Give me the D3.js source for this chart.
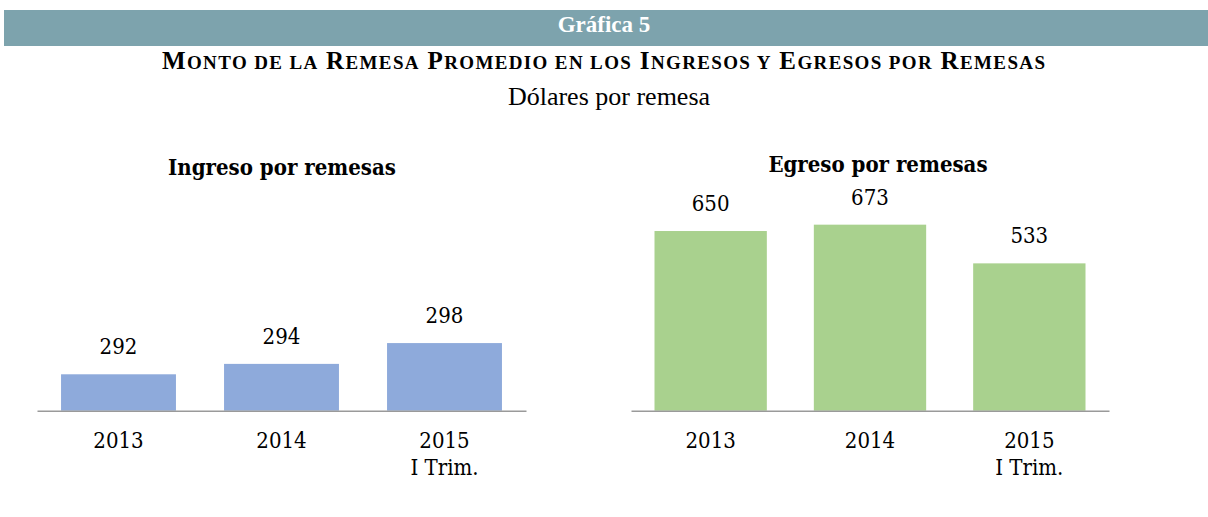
<!DOCTYPE html>
<html>
<head>
<meta charset="utf-8">
<script src="https://cdn.jsdelivr.net/npm/d3@7"></script>
<style>
  body { margin: 0; background: #fff; }
  svg { display: block; }
  .num { font-family: "DejaVu Serif", serif; font-stretch: condensed; font-size: 22px; fill: #000; }
  .sub { font-family: "DejaVu Serif", serif; font-stretch: condensed; font-weight: bold; font-size: 22px; fill: #000; }
</style>
</head>
<body>
<div id="chart"></div>
<script>
// data
const years = ["2013", "2014", "2015"];
const yearNotes = ["", "", "I Trim."];
const ingreso = [292, 294, 298];
const egreso = [650, 673, 533];
const mainTitle = "Monto de la Remesa Promedio en los Ingresos y Egresos por Remesas";

const W = 1208, H = 517;
const baseY = 410.7, topY = 217.2;

const svg = d3.select("#chart").append("svg")
    .attr("width", W)
    .attr("height", H);

// header bar
svg.append("rect")
    .attr("x", 4).attr("y", 10)
    .attr("width", W - 4).attr("height", 36)
    .attr("fill", "#7DA3AD");

svg.append("text")
    .attr("x", 604).attr("y", 32)
    .attr("text-anchor", "middle")
    .style("font-family", "'Liberation Serif', serif")
    .style("font-weight", "bold")
    .style("font-size", "23px")
    .attr("fill", "#fff")
    .text("Gráfica 5");

// main title in small caps, built by hand
const titleText = svg.append("text")
    .attr("x", 162).attr("y", 69)
    .attr("textLength", 883)
    .attr("lengthAdjust", "spacing")
    .style("font-family", "'Liberation Serif', serif")
    .style("font-weight", "bold")
    .attr("fill", "#000");

const pieces = [];
mainTitle.split(" ").forEach((w, i) => {
    const pre = i > 0 ? " " : "";
    if (w[0] === w[0].toUpperCase()) {
        pieces.push({ t: pre + w[0], big: true });
        pieces.push({ t: w.slice(1).toUpperCase(), big: false });
    } else {
        pieces.push({ t: pre + w.toUpperCase(), big: false });
    }
});
titleText.selectAll("tspan")
    .data(pieces)
    .enter().append("tspan")
    .style("font-size", d => d.big ? "25px" : "19px")
    .text(d => d.t);

svg.append("text")
    .attr("x", 609).attr("y", 105)
    .attr("text-anchor", "middle")
    .style("font-family", "'Liberation Serif', serif")
    .style("font-size", "26px")
    .attr("fill", "#000")
    .text("Dólares por remesa");

function drawPanel(opts) {
    const x = d3.scaleBand()
        .domain(years)
        .range([opts.x0, opts.x1])
        .paddingInner(0.295)
        .paddingOuter(0.1475);

    const y = d3.scaleLinear()
        .domain(opts.domain)
        .range([baseY, topY]);

    const g = svg.append("g");

    g.append("text")
        .attr("class", "sub")
        .attr("x", opts.titleX).attr("y", opts.titleY)
        .attr("text-anchor", "middle")
        .text(opts.title);

    const rows = years.map((yr, i) => ({ year: yr, note: yearNotes[i], value: opts.values[i] }));

    g.selectAll("rect.bar")
        .data(rows)
        .enter().append("rect")
        .attr("class", "bar")
        .attr("x", d => x(d.year))
        .attr("width", x.bandwidth())
        .attr("y", d => y(d.value))
        .attr("height", d => baseY - y(d.value))
        .attr("fill", opts.color);

    g.selectAll("text.val")
        .data(rows)
        .enter().append("text")
        .attr("class", "num")
        .attr("x", d => x(d.year) + x.bandwidth() / 2)
        .attr("y", d => y(d.value) - 20)
        .attr("text-anchor", "middle")
        .text(d => d.value);

    // baseline axis
    const axis = d3.axisBottom(x).tickSize(0).tickPadding(0).tickFormat("");
    const ag = g.append("g")
        .attr("transform", `translate(0,${baseY})`)
        .call(axis);
    ag.select(".domain").attr("stroke", "#9a9a9a").attr("stroke-width", 1.5);

    const tl = g.selectAll("text.tick-lbl")
        .data(rows)
        .enter().append("text")
        .attr("class", "num")
        .attr("text-anchor", "middle")
        .attr("x", d => x(d.year) + x.bandwidth() / 2)
        .attr("y", 448);
    tl.append("tspan").text(d => d.year);
    tl.filter(d => d.note)
        .append("tspan")
        .attr("x", d => x(d.year) + x.bandwidth() / 2)
        .attr("dy", 27)
        .text(d => d.note);
}

drawPanel({
    x0: 37, x1: 526,
    domain: [285, 322.2],
    values: ingreso,
    color: "#8EAADB",
    title: "Ingreso por remesas",
    titleX: 282, titleY: 175
});

drawPanel({
    x0: 631, x1: 1109,
    domain: [0, 700],
    values: egreso,
    color: "#A9D18E",
    title: "Egreso por remesas",
    titleX: 878, titleY: 172
});
</script>
</body>
</html>
